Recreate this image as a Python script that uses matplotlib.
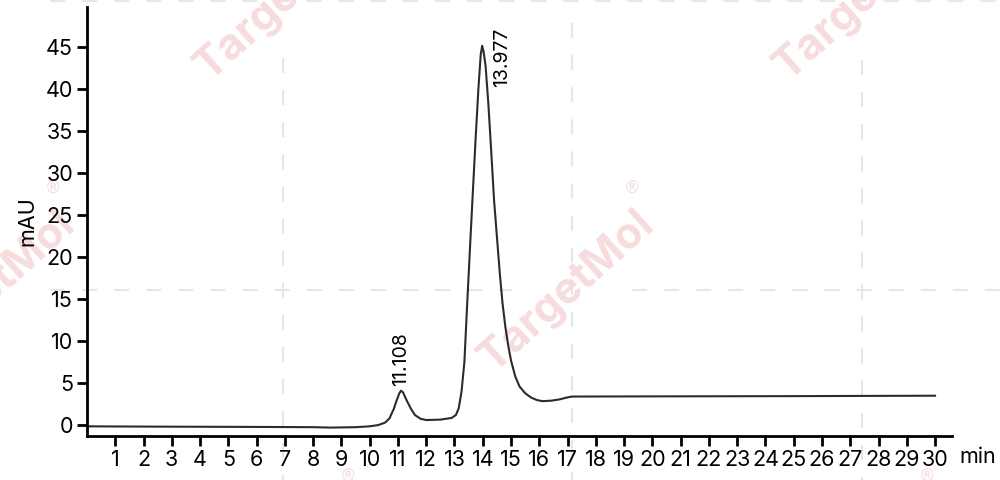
import matplotlib
matplotlib.use("Agg")
import matplotlib.pyplot as plt
from matplotlib.lines import Line2D

# chromatogram trace (min, mAU)
time_min = [0, 2, 4, 6, 8, 8.6, 9.5, 10.0, 10.3, 10.55, 10.7, 10.85, 10.95, 11.05,
            11.11, 11.18, 11.3, 11.45, 11.6, 11.8, 12.0, 12.5, 12.9, 13.05, 13.15,
            13.25, 13.35, 13.45, 13.55, 13.65, 13.75, 13.85, 13.93, 13.98, 14.03,
            14.1, 14.2, 14.3, 14.4, 14.5, 14.6, 14.7, 14.8, 14.9, 15.0, 15.15, 15.3,
            15.5, 15.7, 15.9, 16.1, 16.4, 16.7, 17.0, 17.15, 20, 25, 30]
signal_mau = [-0.15, -0.18, -0.2, -0.22, -0.25, -0.3, -0.25, -0.15, 0.0, 0.3, 0.8,
              1.9, 2.9, 3.8, 4.1, 3.9, 3.0, 2.0, 1.2, 0.75, 0.6, 0.65, 0.85, 1.2, 2.0,
              4.0, 7.5, 14.5, 21.2, 27.8, 34.3, 40.3, 44.2, 45.2, 44.5, 42.8, 38.2,
              32.6, 26.8, 22.5, 18.2, 14.5, 11.7, 9.5, 7.7, 5.8, 4.6, 3.8, 3.3, 3.0,
              2.85, 2.9, 3.05, 3.3, 3.4, 3.42, 3.45, 3.5]

peak_times = [11.108, 13.977]
peak_labels = ["11.108", "13.977"]
peak_heights = [4.1, 45.2]

x_ticks = list(range(1, 31))
y_ticks = list(range(0, 50, 5))

plt.rcParams["font.family"] = ["Inter", "DejaVu Sans"]

fig = plt.figure(figsize=(10, 4.8), dpi=100)
ax = fig.add_axes([0.087, 0.0917, 0.865, 0.8933])
ax.set_facecolor("none")

# watermark grid and logos (figure pixel coords -> fraction)
def fx(px):
    return px / 1000.0

def fy(py):
    return 1 - py / 480.0

wm_grid = "#e6e6e6"
dash_kw = dict(color=wm_grid, lw=1.5, dashes=(7.2, 8.2), zorder=-2,
               transform=fig.transFigure)
for x0, y_start in [(283, 58), (572, 23), (862, 60)]:
    fig.add_artist(Line2D([fx(x0), fx(x0)], [fy(y_start), fy(480)], **dash_kw))
for xa, xb in [(50, 512), (632, 1000)]:
    fig.add_artist(Line2D([fx(xa), fx(xb)], [fy(290), fy(290)], **dash_kw))
fig.add_artist(Line2D([fx(50), fx(1000)], [fy(1), fy(1)], **dash_kw))

wm_color = "#f6dcdc"
for cx, cy in [(283, 0), (862, 0), (567, 292), (-12, 292), (283, 580), (862, 580)]:
    fig.text(fx(cx), fy(cy), "TargetMol", rotation=42, rotation_mode="anchor",
             ha="center", va="center", fontsize=31, fontweight="bold",
             color=wm_color, zorder=-1)
    fig.text(fx(cx + 65), fy(cy - 104), "\u00ae", fontsize=12, color=wm_color,
             family="DejaVu Sans", ha="center", va="center", zorder=-1)

ax.plot(time_min, signal_mau, color="#2b2b2b", lw=1.5)

for t, lab, h in zip(peak_times, peak_labels, peak_heights):
    if h < 10:
        ax.text(t, h + 0.5, lab, rotation=90, ha="center", va="bottom", fontsize=14)
    else:
        ax.text(t + 0.7, 47.3, lab, rotation=90, ha="center", va="top", fontsize=14)

ax.set_xlim(0, 30.6)
ax.set_ylim(-1.3, 49.8)
ax.set_xticks(x_ticks)
ax.set_yticks(y_ticks)
ax.tick_params(labelsize=15.5, width=2, length=7, direction="out", pad=3)
for side in ["top", "right"]:
    ax.spines[side].set_visible(False)
for side in ["left", "bottom"]:
    ax.spines[side].set_linewidth(2)

ax.set_ylabel("mAU", fontsize=15.5, labelpad=6)
fig.text(0.978, 0.048, "min", fontsize=15.5, ha="center", va="center")

fig.savefig("out.png", dpi=100)
